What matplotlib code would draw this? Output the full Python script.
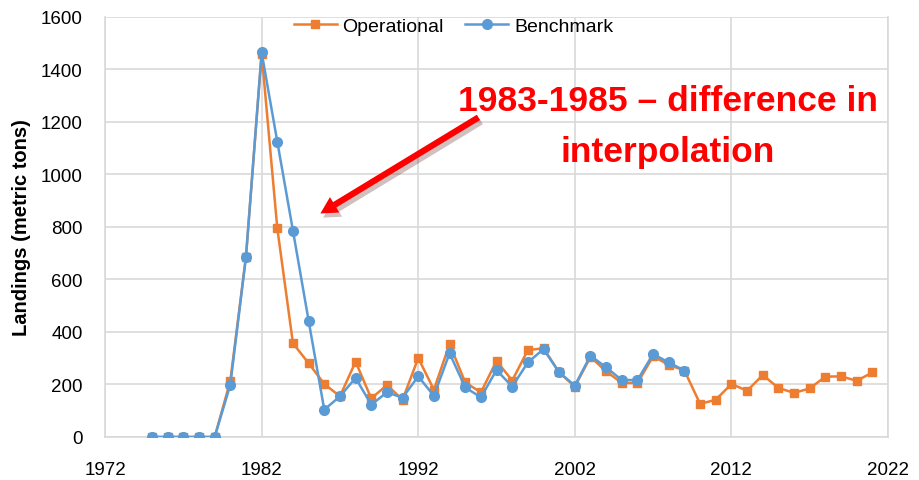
import matplotlib.pyplot as plt
from matplotlib import patheffects as pe

# data
years_op = list(range(1975, 2022))
operational = [0, 0, 0, 0, 0, 214, 687, 1460, 795, 357, 281, 202, 155, 287, 147,
               198, 142, 301, 180, 354, 208, 170, 290, 215, 331, 338, 246, 192,
               305, 250, 206, 206, 307, 275, 253, 126, 142, 202, 176, 236, 187,
               168, 185, 230, 231, 214, 246]

years_bm = list(range(1975, 2010))
benchmark = [0, 0, 0, 0, 0, 199, 687, 1465, 1125, 786, 443, 104, 155, 225, 123,
             170, 150, 231, 157, 319, 189, 151, 255, 192, 284, 335, 246, 196,
             310, 265, 217, 217, 316, 284, 253]

xticks = [1972, 1982, 1992, 2002, 2012, 2022]
yticks = list(range(0, 1601, 200))

note_lines = ['1983-1985 \u2013 difference in', 'interpolation']

ORANGE = '#ED7D31'
BLUE = '#5B9BD5'
GRID = '#D9D9D9'
RED = '#FF0000'

plt.rcParams['font.family'] = ['Liberation Sans', 'DejaVu Sans']

fig = plt.figure(figsize=(9.19, 4.81), dpi=100)
ax = fig.add_axes([0.1143, 0.0894, 0.852, 0.8732])

ax.plot(years_op, operational, color=ORANGE, lw=1.8, marker='s', ms=5.8,
        label='Operational', zorder=3)
ax.plot(years_bm, benchmark, color=BLUE, lw=1.8, marker='o', ms=7,
        label='Benchmark', zorder=4)

ax.set_xlim(1972, 2022)
ax.set_ylim(0, 1600)
ax.set_xticks(xticks)
ax.set_yticks(yticks)
ax.grid(True, color=GRID, lw=1.2, zorder=0)
for s in ax.spines.values():
    s.set_color(GRID)
    s.set_linewidth(1.2)
ax.spines['top'].set_visible(False)
ax.tick_params(axis='x', length=0, labelsize=13.5, pad=17)
ax.tick_params(axis='y', length=0, labelsize=13.5, pad=16)
ax.set_ylabel('Landings (metric tons)', fontsize=14.5, fontweight='bold')
ax.yaxis.set_label_coords(-0.094, 0.5)

ax.legend(loc='upper center', bbox_to_anchor=(0.445, 1.04), ncol=2,
          frameon=False, fontsize=14, handlelength=2.2, columnspacing=1.1,
          handletextpad=0.3)

# annotation arrow + text
ax.annotate('', xy=(1985.6, 846), xytext=(1996.0, 1223),
            arrowprops=dict(arrowstyle='simple,head_width=1.3,head_length=1.2,tail_width=0.45',
                            color=RED, lw=0,
                            path_effects=[pe.SimplePatchShadow(offset=(2, -3), alpha=0.25),
                                          pe.Normal()]),
            zorder=6)
ax.text(2007.95, 1246, note_lines[0], ha='center', va='baseline', color=RED,
        fontsize=25.5, fontweight='bold', zorder=6)
ax.text(2007.95, 1051, note_lines[1], ha='center', va='baseline', color=RED,
        fontsize=25.5, fontweight='bold', zorder=6)

fig.savefig('out.png', dpi=100)
